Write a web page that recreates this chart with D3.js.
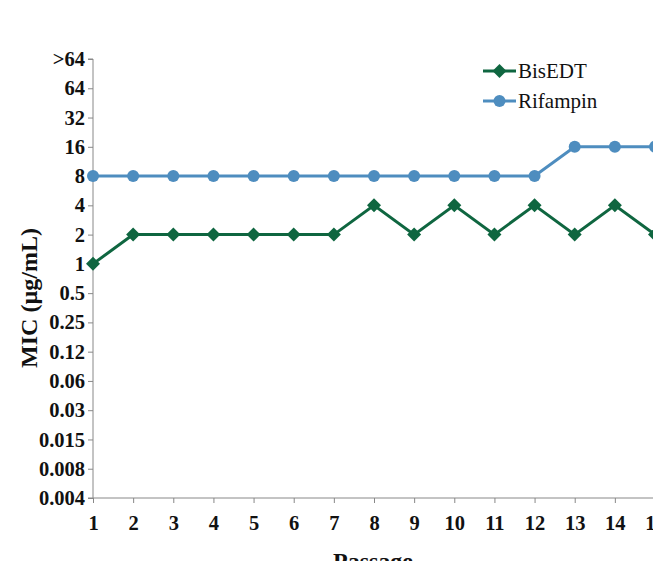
<!DOCTYPE html>
<html>
<head>
<meta charset="utf-8">
<script src="https://cdn.jsdelivr.net/npm/d3@7"></script>
<style>
  body { margin: 0; background: #fff; }
  svg { display: block; }
</style>
</head>
<body>
<div id="chart"></div>
<script>
// MIC levels on the y axis (bottom to top), evenly spaced
const micLevels = ['0.004', '0.008', '0.015', '0.03', '0.06', '0.12', '0.25', '0.5',
    '1', '2', '4', '8', '16', '32', '64', '>64'];
const passages = [1, 2, 3, 4, 5, 6, 7, 8, 9, 10, 11, 12, 13, 14, 15];
const bisEDT = ['1', '2', '2', '2', '2', '2', '2', '4', '2', '4', '2', '4', '2', '4', '2'];
const rifampin = ['8', '8', '8', '8', '8', '8', '8', '8', '8', '8', '8', '8', '16', '16', '16'];

const width = 653, height = 561;
const font = '"Liberation Serif", "Times New Roman", serif';

const svg = d3.select('#chart').append('svg')
    .attr('width', width)
    .attr('height', height);

const x = d3.scaleLinear().domain([1, 15]).range([93, 655]);
const y = d3.scalePoint().domain(micLevels).range([498, 59]);

// y axis
const yAxis = svg.append('g')
    .attr('transform', 'translate(93,0)')
    .call(d3.axisLeft(y).tickSize(5).tickPadding(3));
yAxis.select('.domain').attr('stroke', '#888').attr('d', 'M-5,498H0V59H-5');
yAxis.selectAll('.tick line').attr('stroke', '#888');
yAxis.selectAll('.tick text')
    .attr('fill', '#111')
    .style('font-family', font)
    .style('font-weight', 'bold')
    .style('font-size', '20.5px');

// x axis
const xAxis = svg.append('g')
    .attr('transform', 'translate(0,498)')
    .call(d3.axisBottom(x).tickValues(passages).tickFormat(d3.format('d')).tickSize(5).tickPadding(12));
xAxis.select('.domain').attr('stroke', '#888').attr('d', 'M93,0H660');
xAxis.selectAll('.tick line').attr('stroke', '#888');
xAxis.selectAll('.tick text')
    .attr('fill', '#111')
    .style('font-family', font)
    .style('font-weight', 'bold')
    .style('font-size', '20.5px');

// axis titles
svg.append('text')
    .attr('transform', 'translate(37,298) rotate(-90)')
    .attr('text-anchor', 'middle')
    .style('font-family', font)
    .style('font-weight', 'bold')
    .style('font-size', '24px')
    .attr('fill', '#111')
    .text('MIC (µg/mL)');

svg.append('text')
    .attr('x', 373)
    .attr('y', 569)
    .attr('text-anchor', 'middle')
    .style('font-family', font)
    .style('font-weight', 'bold')
    .style('font-size', '24px')
    .attr('fill', '#111')
    .text('Passage');

const series = [
    { name: 'BisEDT', values: bisEDT, color: '#0f6640', shape: 'diamond' },
    { name: 'Rifampin', values: rifampin, color: '#4e8dbf', shape: 'circle' }
];

const line = d3.line()
    .x((d, i) => x(passages[i]))
    .y(d => y(d));

function drawMarker(g, shape, color, cx, cy) {
    if (shape === 'diamond') {
        g.append('path')
            .attr('d', `M${cx},${cy - 7}L${cx + 7},${cy}L${cx},${cy + 7}L${cx - 7},${cy}Z`)
            .attr('fill', color);
    } else {
        g.append('circle')
            .attr('cx', cx).attr('cy', cy).attr('r', 6)
            .attr('fill', color);
    }
}

series.forEach(s => {
    const g = svg.append('g');
    g.append('path')
        .datum(s.values)
        .attr('d', line)
        .attr('fill', 'none')
        .attr('stroke', s.color)
        .attr('stroke-width', 3);
    s.values.forEach((v, i) => drawMarker(g, s.shape, s.color, x(passages[i]), y(v)));
});

// legend
series.forEach((s, i) => {
    const ly = 71 + i * 30;
    const g = svg.append('g');
    g.append('line')
        .attr('x1', 483).attr('x2', 516)
        .attr('y1', ly).attr('y2', ly)
        .attr('stroke', s.color)
        .attr('stroke-width', 3);
    drawMarker(g, s.shape, s.color, 499.5, ly);
    g.append('text')
        .attr('x', 518)
        .attr('y', ly + 7)
        .style('font-family', font)
        .style('font-size', '21px')
        .attr('fill', '#111')
        .text(s.name);
});
</script>
</body>
</html>
